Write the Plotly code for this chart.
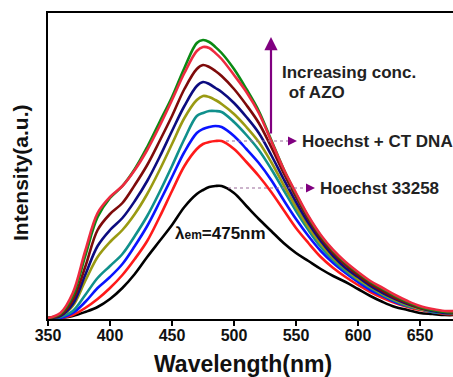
import plotly.graph_objects as go

# ---------------- data ----------------
wavelength = [350, 360, 370, 380, 390, 400, 410, 420, 430, 440, 450, 460, 470, 475, 480, 485, 490,
              500, 510, 520, 530, 540, 550, 560, 570, 580, 590, 600, 610, 620, 630, 640, 650, 660, 670, 680]

hoechst_33258 = [0, 1, 3, 7, 12, 20, 31, 45, 62, 78, 94, 112, 125, 129, 132, 133, 133,
                 126, 113, 100, 88, 76, 66, 58, 50, 43, 37, 30, 23, 17, 12, 9, 6, 5, 4, 4]
hoechst_ctdna = [0, 1, 4, 11, 20, 31, 44, 60, 78, 102, 128, 153, 170, 175, 177, 178, 178,
                 170, 157, 143, 127, 109, 91, 76, 62, 51, 42, 34, 27, 21, 16, 12, 9, 7, 5, 5]
azo_1 = [0, 1, 6, 17, 31, 42, 55, 73, 93, 117, 142, 167, 186, 190, 192, 193, 192,
         183, 170, 156, 139, 119, 100, 83, 68, 56, 46, 37, 29, 23, 17, 13, 10, 7, 6, 5]
azo_2 = [0, 2, 8, 24, 41, 53, 65, 83, 103, 127, 153, 180, 203, 206, 208, 208, 207,
         197, 184, 169, 150, 129, 108, 89, 72, 59, 48, 39, 31, 24, 18, 13, 10, 7, 6, 5]
azo_3 = [1, 3, 13, 38, 62, 77, 89, 105, 125, 149, 175, 201, 219, 223, 222, 219, 215,
         205, 192, 177, 157, 134, 112, 92, 75, 61, 50, 40, 32, 25, 19, 14, 10, 8, 6, 5]
azo_4 = [1, 3, 15, 44, 73, 89, 101, 118, 138, 162, 188, 213, 233, 237, 235, 231, 227,
         216, 202, 186, 164, 140, 117, 96, 78, 63, 51, 42, 33, 26, 20, 15, 11, 8, 6, 6]
azo_5 = [1, 4, 19, 52, 89, 105, 116, 134, 154, 178, 203, 230, 250, 254, 252, 248, 243,
         230, 214, 196, 172, 146, 122, 100, 81, 66, 54, 44, 35, 28, 21, 16, 11, 9, 7, 6]
azo_6 = [1, 6, 26, 68, 106, 122, 133, 149, 169, 193, 219, 246, 268, 272, 271, 266, 260,
         244, 227, 206, 178, 150, 126, 103, 84, 69, 57, 47, 38, 31, 24, 18, 13, 10, 8, 8]
azo_7 = [1, 5, 23, 63, 102, 121, 133, 150, 172, 197, 222, 251, 276, 279, 277, 272, 266,
         250, 230, 208, 179, 150, 125, 102, 83, 68, 56, 46, 37, 30, 23, 17, 12, 9, 7, 7]

x_ticks = [350, 400, 450, 500, 550, 600, 650]

series = [
    ("Hoechst 33258", hoechst_33258, "#000000"),
    ("Hoechst + CT DNA", hoechst_ctdna, "#ff1a1a"),
    ("AZO 1", azo_1, "#0a14ff"),
    ("AZO 2", azo_2, "#10908c"),
    ("AZO 3", azo_3, "#9a9a12"),
    ("AZO 4", azo_4, "#0c0c80"),
    ("AZO 5", azo_5, "#7e0a0a"),
    ("AZO 7", azo_7, "#0a8a14"),
    ("AZO 6", azo_6, "#ee2a40"),
]

# ---------------- layout geometry ----------------
W, H = 453, 377
L, T, R, B = 48, 13, 0, 58
PW, PH = W - L - R, H - T - B
X0 = 350
X1 = X0 + PW / 1.24
Y1 = PH


def px(xp):
    return (xp - L) / PW


def py(yp):
    return (H - B - yp) / PH


FONT = "Liberation Sans, Arial, sans-serif"
PURPLE = "#800080"

fig = go.Figure()
for name, vals, col in series:
    fig.add_trace(go.Scatter(x=wavelength, y=vals, mode="lines", name=name,
                             line=dict(color=col, width=2.6, shape="spline", smoothing=1.0)))

fig.update_layout(
    width=W, height=H,
    margin=dict(l=L, r=R, t=T, b=B),
    paper_bgcolor="white", plot_bgcolor="white",
    showlegend=False,
    font=dict(family=FONT, color="#111111"),
)
fig.update_xaxes(range=[X0, X1], tickvals=x_ticks, ticks="outside", ticklen=5, tickwidth=2,
                 tickcolor="black", showline=True, linewidth=2, linecolor="black", mirror=True,
                 showgrid=False, zeroline=False, ticklabelstandoff=-4,
                 tickfont=dict(family=FONT, size=16, color="#111111", weight="bold"))
fig.update_yaxes(range=[0, Y1], showticklabels=False, ticks="", showline=True, linewidth=2,
                 linecolor="black", showgrid=False, zeroline=False)

LBL = 17
ann = []
# axis titles
ann.append(dict(xref="paper", yref="paper", x=px(243), y=py(364), text="<b>Wavelength(nm)</b>",
                showarrow=False, font=dict(size=23, family=FONT, color="#111111"),
                xanchor="center", yanchor="middle"))
ann.append(dict(xref="paper", yref="paper", x=px(21), y=py(173), text="<b>Intensity(a.u.)</b>",
                showarrow=False, textangle=-90, font=dict(size=21, family=FONT, color="#111111"),
                xanchor="center", yanchor="middle"))
# texts
ann.append(dict(xref="paper", yref="paper", x=px(280), y=py(72), text="<b>Increasing conc.</b>",
                showarrow=False, font=dict(size=LBL, family=FONT, color="#222222"),
                xanchor="left", yanchor="middle"))
ann.append(dict(xref="paper", yref="paper", x=px(282), y=py(93), text="<b> of AZO</b>",
                showarrow=False, font=dict(size=LBL, family=FONT, color="#222222"),
                xanchor="left", yanchor="middle"))
ann.append(dict(xref="paper", yref="paper", x=px(300), y=py(141), text="<b>Hoechst + CT DNA</b>",
                showarrow=False, font=dict(size=LBL, family=FONT, color="#222222"),
                xanchor="left", yanchor="middle"))
ann.append(dict(xref="paper", yref="paper", x=px(318), y=py(188), text="<b>Hoechst 33258</b>",
                showarrow=False, font=dict(size=LBL, family=FONT, color="#222222"),
                xanchor="left", yanchor="middle"))
ann.append(dict(xref="paper", yref="paper", x=px(173), y=py(233),
                text="<b>λ<span style='font-size:12px'>em</span>=475nm</b>",
                showarrow=False, font=dict(size=LBL, family=FONT, color="#111111"),
                xanchor="left", yanchor="middle"))
# big vertical arrow
ann.append(dict(xref="paper", yref="paper", x=px(271), y=py(37), ax=0, ay=98,
                text="", showarrow=True, arrowhead=2,
                arrowsize=1.2, arrowwidth=2.2, arrowcolor=PURPLE))
# small arrow heads for dotted pointers
ann.append(dict(xref="paper", yref="paper", x=px(297), y=py(141), ax=-9, ay=0,
                text="", showarrow=True, arrowhead=2,
                arrowsize=1, arrowwidth=1.8, arrowcolor=PURPLE))
ann.append(dict(xref="paper", yref="paper", x=px(315), y=py(188), ax=-9, ay=0,
                text="", showarrow=True, arrowhead=2,
                arrowsize=1, arrowwidth=1.8, arrowcolor=PURPLE))
fig.update_layout(annotations=ann)

shapes = [
    dict(type="line", xref="paper", yref="paper", x0=px(226), x1=px(290), y0=py(141), y1=py(141),
         line=dict(color="#9a6a9a", width=1.2, dash="dot")),
    dict(type="line", xref="paper", yref="paper", x0=px(228), x1=px(308), y0=py(188), y1=py(188),
         line=dict(color="#9a6a9a", width=1.2, dash="dot")),
]
fig.update_layout(shapes=shapes)

fig.write_html("out.html", config={"displayModeBar": False},
               post_script="document.body.style.margin='0px';document.body.style.overflow='hidden';")
